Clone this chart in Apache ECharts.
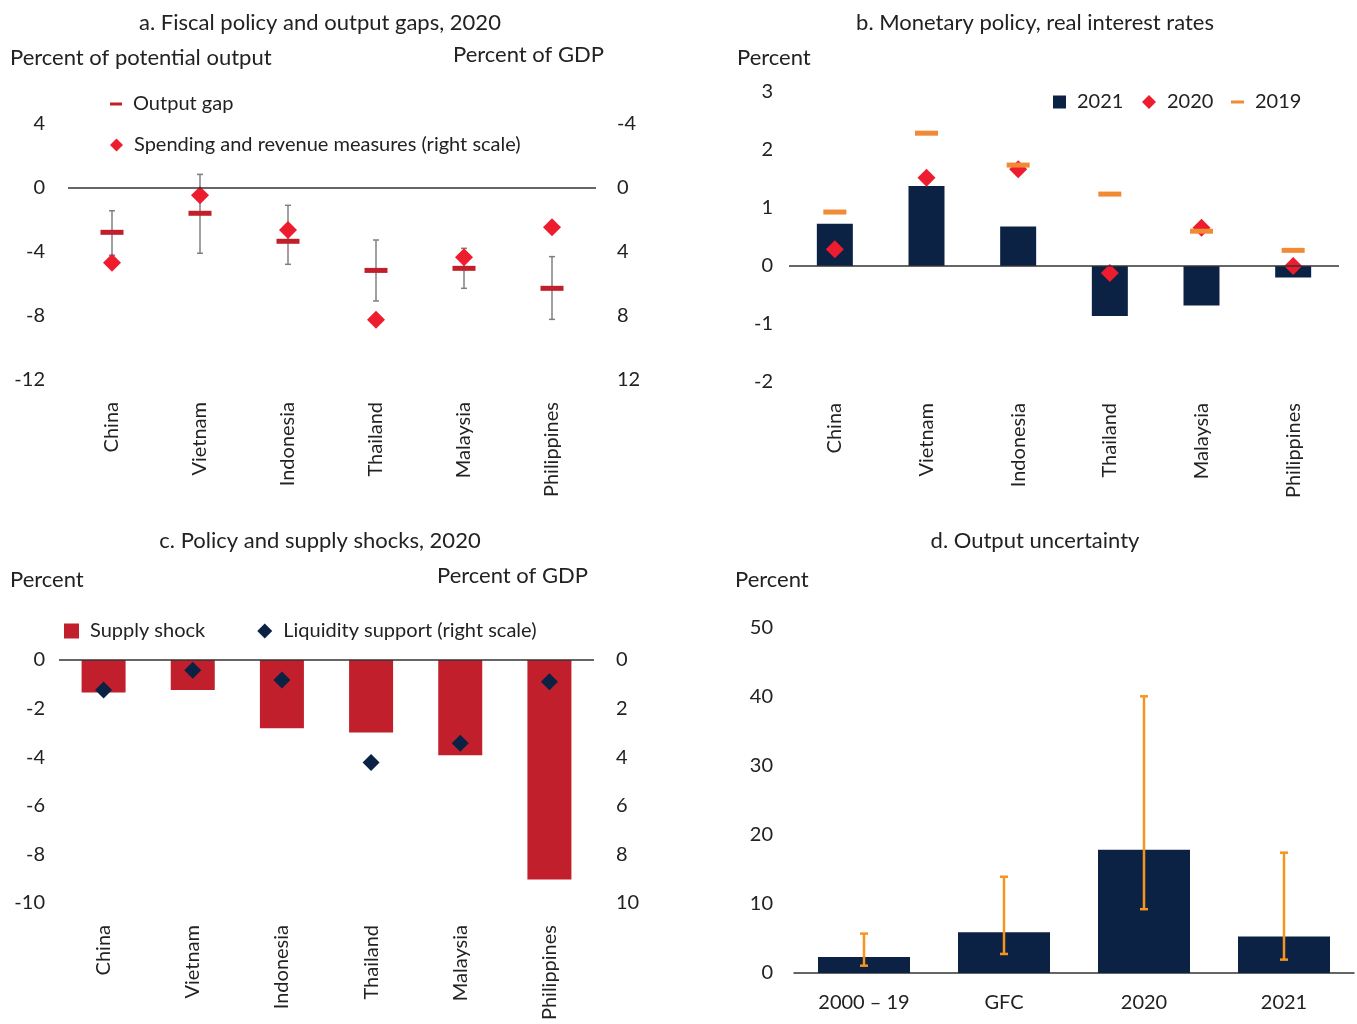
<!DOCTYPE html>
<html>
<head>
<meta charset="utf-8">
<script src="https://cdn.jsdelivr.net/npm/echarts@6/dist/echarts.min.js"></script>
<style>
  html, body { margin: 0; padding: 0; background: #fff; }
  #main { width: 1357px; height: 1024px; }
</style>
</head>
<body>
<div id="main"></div>
<script>
const countries = ["China", "Vietnam", "Indonesia", "Thailand", "Malaysia", "Philippines"]

// a. fiscal policy and output gaps
const outputGap = [-2.77, -1.58, -3.33, -5.15, -5.02, -6.27]
const gapLow = [-4.2, -4.08, -4.77, -7.06, -6.27, -8.21]
const gapHigh = [-1.42, 0.85, -1.08, -3.25, -3.77, -4.29]
const fiscalMeasures = [4.67, 0.46, 2.63, 8.23, 4.33, 2.46]

// b. real interest rates
const rate2021 = [0.73, 1.38, 0.68, -0.86, -0.68, -0.2]
const rate2020 = [0.29, 1.52, 1.67, -0.12, 0.66, 0.0]
const rate2019 = [0.93, 2.29, 1.74, 1.24, 0.6, 0.27]

// c. supply shocks and liquidity
const supplyShock = [-1.34, -1.23, -2.81, -2.98, -3.92, -9.03]
const liquidity = [1.23, 0.42, 0.82, 4.22, 3.43, 0.89]

// d. output uncertainty
const periods = ["2000 – 19", "GFC", "2020", "2021"]
const uncertainty = [2.33, 5.9, 17.87, 5.28]
const uncLow = [1.06, 2.76, 9.25, 1.94]
const uncHigh = [5.71, 13.95, 40.1, 17.44]

const navy = "#0c2245"
const red = "#ed1c2e"
const darkRed = "#c01f2b"
const orange = "#f08a35"
const txt = "#222"
const font = "Lato"

const myChart = echarts.init(document.getElementById("main"))

function errorBars(color, lineWidth, cap) {
  return function (params, api) {
    const lo = api.coord([api.value(0), api.value(1)])
    const hi = api.coord([api.value(0), api.value(2)])
    const style = { stroke: color, lineWidth: lineWidth }
    return {
      type: "group",
      children: [
        { type: "line", shape: { x1: hi[0], y1: hi[1], x2: lo[0], y2: lo[1] }, style: style },
        { type: "line", shape: { x1: hi[0] - cap, y1: hi[1], x2: hi[0] + cap, y2: hi[1] }, style: style },
        { type: "line", shape: { x1: lo[0] - cap, y1: lo[1], x2: lo[0] + cap, y2: lo[1] }, style: style }
      ]
    }
  }
}

function zeroLine() {
  return {
    silent: true,
    symbol: "none",
    label: { show: false },
    lineStyle: { color: "#333", width: 1.5, type: "solid" },
    data: [{ yAxis: 0 }]
  }
}

function titleAt(text, x, y, align) {
  return {
    text: text, left: x, top: y, padding: 0, textAlign: align || "left",
    textStyle: { fontFamily: font, fontSize: 22, fontWeight: "normal", color: txt }
  }
}

function legendAt(name, icon, w, h, x, y) {
  return {
    data: [{ name: name, icon: icon }],
    left: x, top: y, itemWidth: w, itemHeight: h, selectedMode: false, padding: 0,
    textStyle: { fontFamily: font, fontSize: 20, color: txt, padding: [0, 0, 0, 6] }
  }
}

const catAxis = (grid, data, margin, rotate) => ({
  type: "category", gridIndex: grid, data: data,
  axisLine: { show: false }, axisTick: { show: false },
  axisLabel: { rotate: rotate, margin: margin, color: txt, fontFamily: font, fontSize: 20 }
})

const valAxis = (grid, min, max, interval, pos, margin, inverse) => ({
  type: "value", gridIndex: grid, min: min, max: max, interval: interval,
  position: pos, inverse: !!inverse,
  axisLine: { show: false }, axisTick: { show: false }, splitLine: { show: false },
  axisLabel: { margin: margin, color: txt, fontFamily: font, fontSize: 20 }
})

myChart.setOption({
  animation: false,
  textStyle: { fontFamily: font },
  title: [
    titleAt("a. Fiscal policy and output gaps, 2020", 320, 12, "center"),
    titleAt("Percent of potential output", 10, 47),
    titleAt("Percent of GDP", 453, 44),
    titleAt("b. Monetary policy, real interest rates", 1035, 12, "center"),
    titleAt("Percent", 737, 47),
    titleAt("c. Policy and supply shocks, 2020", 320, 530, "center"),
    titleAt("Percent", 10, 569),
    titleAt("Percent of GDP", 437, 565),
    titleAt("d. Output uncertainty", 1035, 530, "center"),
    titleAt("Percent", 735, 569)
  ],
  legend: [
    legendAt("Output gap", "rect", 12, 3, 110, 94),
    legendAt("Spending and revenue measures (right scale)", "diamond", 13, 13, 110, 135),
    legendAt("2021", "rect", 13, 13, 1053, 92),
    legendAt("2020", "diamond", 14, 14, 1142, 92),
    legendAt("2019", "rect", 13, 3, 1231, 92),
    {
      data: [{ name: "Supply shock", icon: "rect" }, { name: "Liquidity support (right scale)", icon: "diamond" }],
      left: 64, top: 621, itemWidth: 15, itemHeight: 15, itemGap: 52, selectedMode: false, padding: 0,
      textStyle: { fontFamily: font, fontSize: 20, color: txt, padding: [0, 0, 0, 6] }
    }
  ],
  grid: [
    { left: 68, top: 124, width: 528, height: 256 },
    { left: 789, top: 92, width: 550, height: 290 },
    { left: 59, top: 660, width: 535, height: 243 },
    { left: 794, top: 628, width: 560, height: 345 }
  ],
  xAxis: [
    catAxis(0, countries, 22, 90),
    catAxis(1, countries, 21, 90),
    catAxis(2, countries, 22, 90),
    Object.assign(catAxis(3, periods, 20, 0), {
      axisLine: { show: true, lineStyle: { color: "#333", width: 1.5 } }
    })
  ],
  yAxis: [
    valAxis(0, -12, 4, 4, "left", 23),
    valAxis(0, -4, 12, 4, "right", 21, true),
    valAxis(1, -2, 3, 1, "left", 16),
    valAxis(2, -10, 0, 2, "left", 14),
    valAxis(2, 0, 10, 2, "right", 22, true),
    valAxis(3, 0, 50, 10, "left", 21)
  ],
  series: [
    // panel a
    {
      type: "custom", name: "gap range", xAxisIndex: 0, yAxisIndex: 0, z: 2,
      renderItem: errorBars("#808080", 1.5, 3),
      encode: { x: 0, y: [1, 2] },
      data: countries.map((c, i) => [i, gapLow[i], gapHigh[i]])
    },
    {
      type: "scatter", name: "Output gap", xAxisIndex: 0, yAxisIndex: 0, z: 3,
      symbol: "rect", symbolSize: [23, 5], itemStyle: { color: darkRed, opacity: 1 },
      data: outputGap,
      markLine: zeroLine()
    },
    {
      type: "scatter", name: "Spending and revenue measures (right scale)", xAxisIndex: 0, yAxisIndex: 1, z: 4,
      symbol: "diamond", symbolSize: 18, itemStyle: { color: red, opacity: 1 },
      data: fiscalMeasures
    },
    // panel b
    {
      type: "bar", name: "2021", xAxisIndex: 1, yAxisIndex: 2, barWidth: 36,
      itemStyle: { color: navy }, data: rate2021,
      markLine: zeroLine()
    },
    {
      type: "scatter", name: "2020", xAxisIndex: 1, yAxisIndex: 2, z: 3,
      symbol: "diamond", symbolSize: 18, itemStyle: { color: red, opacity: 1 }, data: rate2020
    },
    {
      type: "scatter", name: "2019", xAxisIndex: 1, yAxisIndex: 2, z: 4,
      symbol: "rect", symbolSize: [23, 5], itemStyle: { color: orange, opacity: 1 }, data: rate2019
    },
    // panel c
    {
      type: "bar", name: "Supply shock", xAxisIndex: 2, yAxisIndex: 3, barWidth: 44,
      itemStyle: { color: darkRed }, data: supplyShock,
      markLine: zeroLine()
    },
    {
      type: "scatter", name: "Liquidity support (right scale)", xAxisIndex: 2, yAxisIndex: 4, z: 3,
      symbol: "diamond", symbolSize: 17, itemStyle: { color: navy, opacity: 1 }, data: liquidity
    },
    // panel d
    {
      type: "bar", name: "Output uncertainty", xAxisIndex: 3, yAxisIndex: 5, barWidth: 92,
      itemStyle: { color: navy }, data: uncertainty
    },
    {
      type: "custom", name: "uncertainty range", xAxisIndex: 3, yAxisIndex: 5, z: 3,
      renderItem: errorBars("#f7941d", 2.5, 4),
      encode: { x: 0, y: [1, 2] },
      data: periods.map((p, i) => [i, uncLow[i], uncHigh[i]])
    }
  ]
})
</script>
</body>
</html>
